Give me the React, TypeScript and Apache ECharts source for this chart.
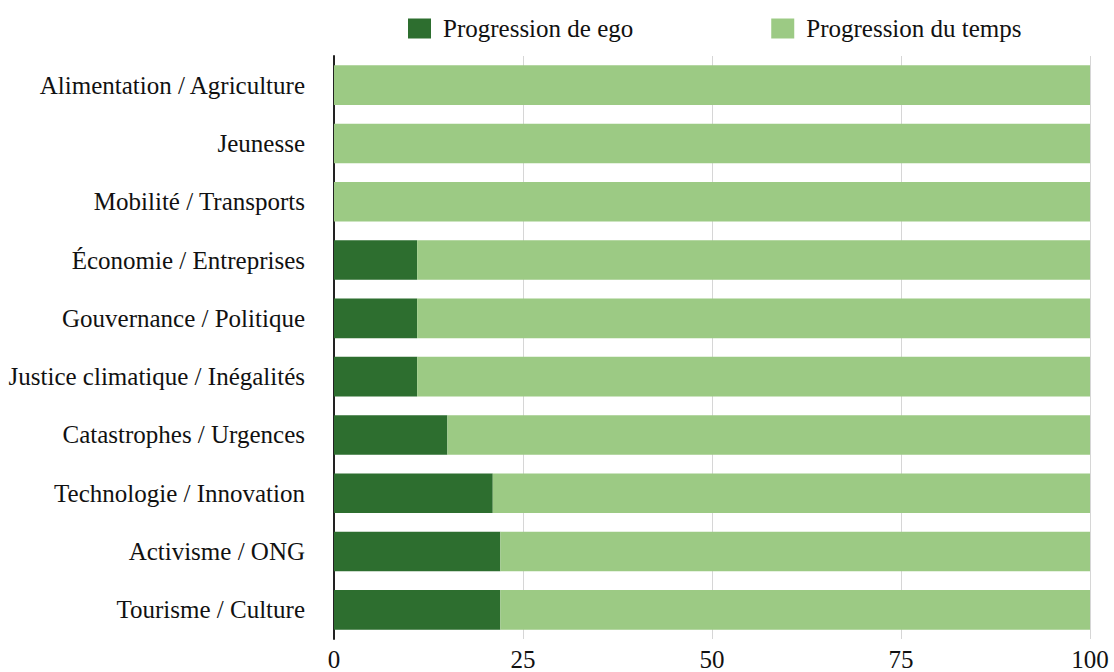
import React, { useEffect, useRef } from "react";
import * as echarts from "echarts";

const categories = [
  "Alimentation / Agriculture",
  "Jeunesse",
  "Mobilité / Transports",
  "Économie / Entreprises",
  "Gouvernance / Politique",
  "Justice climatique / Inégalités",
  "Catastrophes / Urgences",
  "Technologie / Innovation",
  "Activisme / ONG",
  "Tourisme / Culture",
];
const egoValues = [0, 0, 0, 11, 11, 11, 15, 21, 22, 22];
const timeValues = [100, 100, 100, 89, 89, 89, 85, 79, 78, 78];
const seriesNames = ["Progression de ego", "Progression du temps"];

const FONT = "Liberation Serif";
const FS = 25;

export default function App() {
  const ref = useRef<HTMLDivElement>(null);
  useEffect(() => {
    document.body.style.margin = "0";
    const chart = echarts.init(ref.current!, null, { renderer: "svg" });
    chart.setOption({
      animation: false,
      textStyle: { fontFamily: FONT },
      legend: {
        top: 11,
        left: 403,
        itemWidth: 23,
        itemHeight: 20,
        itemGap: 138,
        icon: "rect",
        textStyle: { fontFamily: FONT, fontSize: FS, color: "#111", padding: [0, 0, 0, 7] },
        data: seriesNames,
      },
      grid: { left: 334, right: 24, top: 56, bottom: 29, containLabel: false },
      xAxis: {
        type: "value",
        min: 0,
        max: 100,
        interval: 25,
        axisLine: { show: false },
        axisTick: { show: false },
        splitLine: { show: true, lineStyle: { color: "#d6d6d6", width: 1 } },
        axisLabel: { fontFamily: FONT, fontSize: FS, color: "#111", margin: 8 },
      },
      yAxis: {
        type: "category",
        inverse: true,
        data: categories,
        axisLine: { show: true, lineStyle: { color: "#222", width: 2 } },
        axisTick: { show: false },
        axisLabel: { fontFamily: FONT, fontSize: FS, color: "#111", margin: 29 },
      },
      series: [
        {
          name: seriesNames[0],
          type: "bar",
          stack: "total",
          barWidth: "68%",
          data: egoValues,
          itemStyle: { color: "#2d6e2f" },
        },
        {
          name: seriesNames[1],
          type: "bar",
          stack: "total",
          barWidth: "68%",
          data: timeValues,
          itemStyle: { color: "#9cca84" },
        },
      ],
    });
    return () => chart.dispose();
  }, []);
  return (
    <div
      ref={ref}
      style={{ position: "fixed", left: 0, top: 0, width: 1114, height: 672, background: "#fff" }}
    />
  );
}
